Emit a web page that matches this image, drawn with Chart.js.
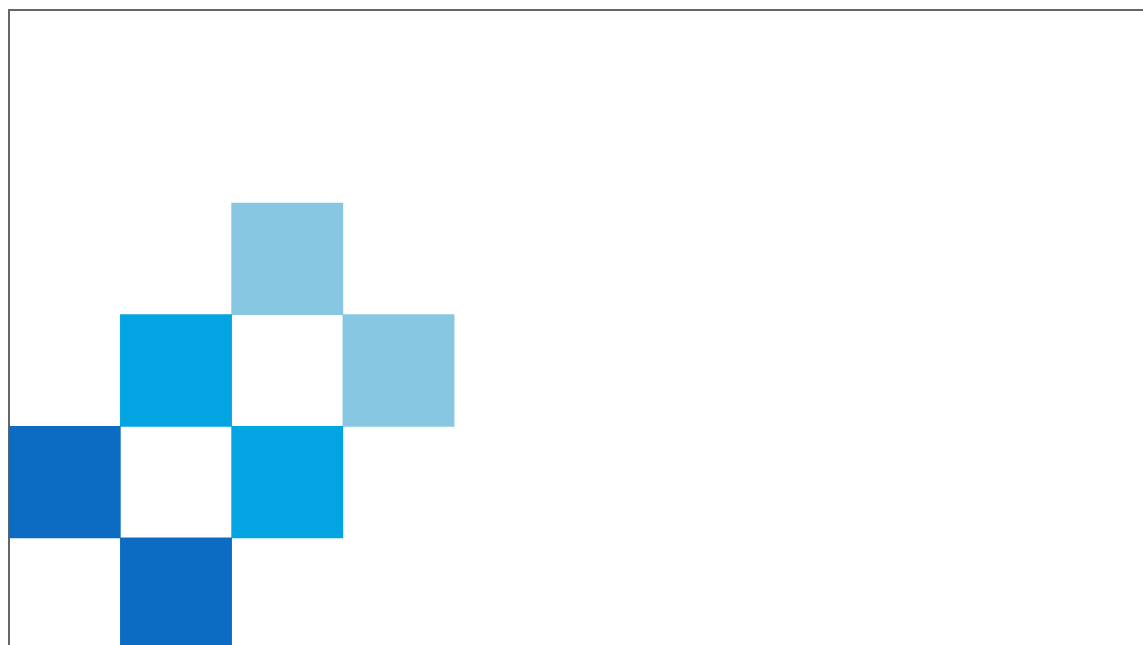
<!DOCTYPE html>
<html>
<head>
<meta charset="utf-8">
<script src="https://cdn.jsdelivr.net/npm/chart.js@4"></script>
<style>
  html, body { margin: 0; padding: 0; background: #fff; overflow: hidden; }
</style>
</head>
<body>
<canvas id="myChart" width="1143" height="645"></canvas>
<script>
// cells of the matrix, one array per shade (column index, row index)
var darkCols = [0, 1];
var darkRows = [2, 3];
var midCols = [1, 2];
var midRows = [1, 2];
var lightCols = [2, 3];
var lightRows = [0, 1];

function cells(cols, rows) {
    return cols.map(function (c, i) {
        return { x: c + 0.5, y: [rows[i], rows[i] + 1] };
    });
}

var ctx = document.getElementById('myChart').getContext('2d');
var myChart = new Chart(ctx, {
    type: 'bar',
    data: {
        datasets: [
            { label: 'dark', data: cells(darkCols, darkRows), backgroundColor: '#0C6CC4' },
            { label: 'mid', data: cells(midCols, midRows), backgroundColor: '#03A4E2' },
            { label: 'light', data: cells(lightCols, lightRows), backgroundColor: '#88C7E2' }
        ]
    },
    options: {
        responsive: false,
        animation: false,
        layout: { padding: { left: 1, top: 2, right: 0, bottom: 0 } },
        datasets: {
            bar: { grouped: false, barPercentage: 1, categoryPercentage: 1, borderWidth: 0, clip: false }
        },
        plugins: {
            legend: { display: false },
            tooltip: { enabled: false }
        },
        scales: {
            x: {
                type: 'linear',
                position: 'top',
                offset: false,
                min: -0.001,
                max: 10.192,
                ticks: { display: false },
                grid: { display: false },
                border: { display: true, color: '#666', width: 2 }
            },
            y: {
                type: 'linear',
                reverse: true,
                min: -1.729,
                max: 3.959,
                ticks: { display: false },
                grid: { display: false },
                border: { display: true, color: '#666', width: 2 }
            }
        }
    }
});
</script>
</body>
</html>
